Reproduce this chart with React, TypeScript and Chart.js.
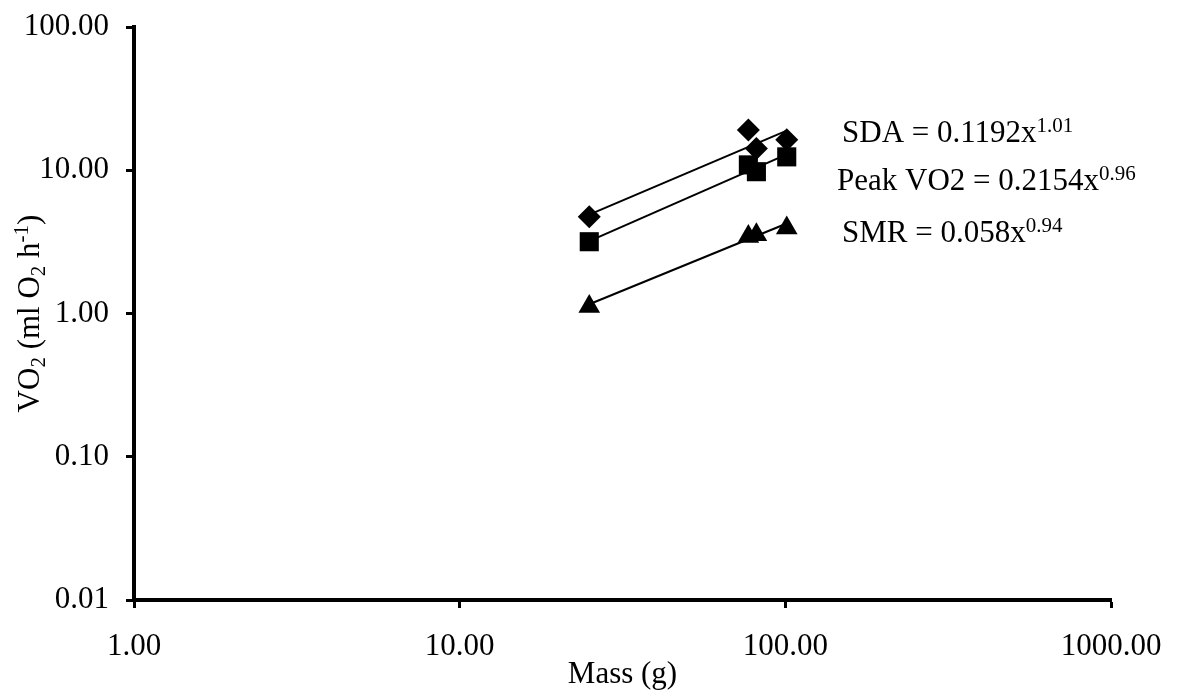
import React, { useEffect, useRef } from "react";
import { Chart, registerables } from "chart.js";

Chart.register(...registerables);

// ---- Data ----
const masses = [25, 77, 81.5, 101];
const sdaValues = [4.74, 19.1, 14.2, 16.3];
const peakValues = [3.17, 10.9, 9.77, 12.4];
const smrValues = [1.12, 3.45, 3.54, 3.95];

const fitMassRange = [25, 101];
const sdaFit = [4.9, 18.9];
const peakFit = [3.2, 12.9];
const smrFit = [1.16, 4.25];

const xTickValues = [1, 10, 100, 1000];
const xTickLabels = ["1.00", "10.00", "100.00", "1000.00"];
const yTickValues = [0.01, 0.1, 1, 10, 100];
const yTickLabels = ["0.01", "0.10", "1.00", "10.00", "100.00"];

const equationBases = ["SDA = 0.1192x", "Peak VO2 = 0.2154x", "SMR = 0.058x"];
const equationExponents = ["1.01", "0.96", "0.94"];

const xTitle = "Mass (g)";
// kind: 0 normal, 1 subscript, 2 superscript
const yTitleParts = [
  { text: "VO", kind: 0 },
  { text: "2", kind: 1 },
  { text: " (ml O", kind: 0 },
  { text: "2", kind: 1 },
  { text: " h", kind: 0 },
  { text: "-1", kind: 2 },
  { text: ")", kind: 0 },
];

const FONT = "'Liberation Serif', 'Times New Roman', serif";

export default function App() {
  const ref = useRef<HTMLCanvasElement>(null);

  useEffect(() => {
    document.body.style.margin = "0";
    if (!ref.current) return;

    const textPlugin = {
      id: "customText",
      afterDraw(chart: any) {
        const ctx = chart.ctx as CanvasRenderingContext2D;
        ctx.save();
        ctx.fillStyle = "#000";
        ctx.textBaseline = "alphabetic";
        ctx.textAlign = "left";
        const eqPos = [
          [842, 142],
          [837, 190],
          [842, 242],
        ];
        equationBases.forEach((b, i) => {
          const [x, y] = eqPos[i];
          ctx.font = `31px ${FONT}`;
          ctx.fillText(b, x, y);
          const w = ctx.measureText(b).width;
          ctx.font = `21px ${FONT}`;
          ctx.fillText(equationExponents[i], x + w, y - 10);
        });

        // rotated y-axis title
        const area = chart.chartArea;
        const cy = (area.top + area.bottom) / 2;
        const fontFor = (k: number) => (k === 0 ? `31px ${FONT}` : `21px ${FONT}`);
        let total = 0;
        yTitleParts.forEach((p) => {
          ctx.font = fontFor(p.kind);
          total += ctx.measureText(p.text).width;
        });
        ctx.translate(39, cy);
        ctx.rotate(-Math.PI / 2);
        let cx = -total / 2;
        yTitleParts.forEach((p) => {
          ctx.font = fontFor(p.kind);
          const dy = p.kind === 1 ? 6 : p.kind === 2 ? -11 : 0;
          ctx.fillText(p.text, cx, dy);
          cx += ctx.measureText(p.text).width;
        });
        ctx.restore();
      },
    };

    const pts = (ys: number[], xs: number[]) => xs.map((x, i) => ({ x, y: ys[i] }));

    const markerBase = {
      backgroundColor: "#000",
      borderColor: "#000",
      borderWidth: 0,
      showLine: false,
    };
    const fitBase = {
      showLine: true,
      pointRadius: 0,
      borderColor: "#000",
      backgroundColor: "#000",
      borderWidth: 2,
    };

    const chart = new Chart(ref.current, {
      type: "scatter",
      data: {
        datasets: [
          { label: "SDA fit", data: pts(sdaFit, fitMassRange), ...fitBase },
          { label: "Peak fit", data: pts(peakFit, fitMassRange), ...fitBase },
          { label: "SMR fit", data: pts(smrFit, fitMassRange), ...fitBase },
          {
            label: "SDA",
            data: pts(sdaValues, masses),
            pointStyle: "rectRot",
            pointRadius: 11.5,
            pointHoverRadius: 11.5,
            ...markerBase,
          },
          {
            label: "Peak VO2",
            data: pts(peakValues, masses),
            pointStyle: "rect",
            pointRadius: 13.5,
            pointHoverRadius: 13.5,
            ...markerBase,
          },
          {
            label: "SMR",
            data: pts(smrValues, masses),
            pointStyle: "triangle",
            pointRadius: 12.5,
            pointHoverRadius: 12.5,
            ...markerBase,
          },
        ],
      },
      options: {
        responsive: false,
        animation: false,
        events: [],
        layout: { padding: { top: 27, right: 67, bottom: 0, left: 0 } },
        plugins: { legend: { display: false }, tooltip: { enabled: false } },
        scales: {
          x: {
            type: "logarithmic",
            min: 1,
            max: 1000,
            position: "bottom",
            grid: { drawOnChartArea: false, drawTicks: true, tickLength: 8, tickWidth: 3, tickColor: "#000" },
            border: { display: true, color: "#000", width: 4 },
            ticks: {
              color: "#000",
              font: { family: FONT, size: 31 },
              padding: 20,
              autoSkip: false,
              maxRotation: 0,
              minRotation: 0,
              callback: (_v: any, i: number) => xTickLabels[i],
            },
            afterBuildTicks: (s: any) => {
              s.ticks = xTickValues.map((v) => ({ value: v }));
            },
            afterFit: (s: any) => {
              s.height = 93;
              s.paddingLeft = 0;
              s.paddingRight = 0;
            },
            title: {
              display: true,
              text: xTitle,
              color: "#000",
              font: { family: FONT, size: 31 },
              padding: { top: 0, bottom: 0 },
            },
          },
          y: {
            type: "logarithmic",
            min: 0.01,
            max: 100,
            position: "left",
            grid: { drawOnChartArea: false, drawTicks: true, tickLength: 8, tickWidth: 3, tickColor: "#000" },
            border: { display: true, color: "#000", width: 4 },
            ticks: {
              color: "#000",
              font: { family: FONT, size: 31 },
              padding: 17,
              autoSkip: false,
              callback: (_v: any, i: number) => yTickLabels[i],
            },
            afterBuildTicks: (s: any) => {
              s.ticks = yTickValues.map((v) => ({ value: v }));
            },
            afterFit: (s: any) => {
              s.width = 134;
              s.paddingTop = 0;
              s.paddingBottom = 0;
            },
          },
        },
      },
      plugins: [textPlugin],
    } as any);

    return () => chart.destroy();
  }, []);

  return (
    <div style={{ width: 1178, height: 693 }}>
      <canvas ref={ref} width={1178} height={693} style={{ display: "block" }} />
    </div>
  );
}
